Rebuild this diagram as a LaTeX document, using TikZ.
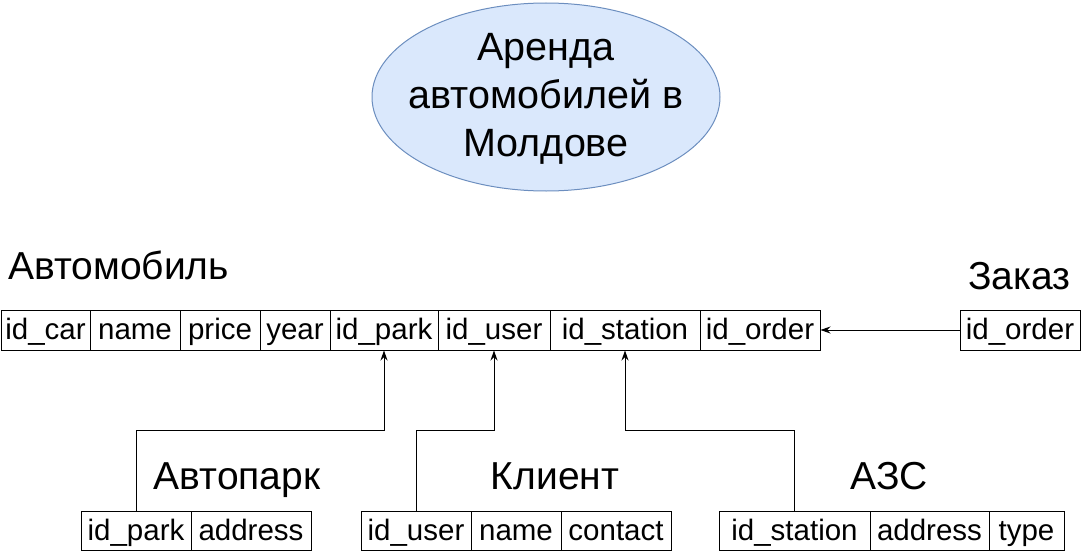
\documentclass[tikz,border=0pt]{standalone}
\usepackage{fontspec}
\setmainfont{Liberation Sans}
\usetikzlibrary{shapes.geometric,arrows.meta}
\definecolor{ellfill}{HTML}{DAE8FC}
\definecolor{elldraw}{HTML}{6C8EBF}
\begin{document}
\begin{tikzpicture}[x=1pt,y=-1pt,
  cell/.style={draw, line width=1pt, minimum height=40pt, inner sep=0pt, text height=22pt, text depth=4pt, font=\fontsize{29.5}{34}\selectfont},
  bcell/.style={cell, minimum height=39pt, text height=22.5pt, text depth=3.5pt},
  lbl/.style={inner sep=0pt, font=\fontsize{39}{46}\selectfont},
  arr/.style={line width=1pt, -{Stealth[length=10pt,width=7pt]}}]
\useasboundingbox (0,0) rectangle (1081,551);
% title ellipse
\node[ellipse, draw=elldraw, fill=ellfill, line width=1pt, minimum width=348pt, minimum height=188pt, inner sep=0pt] (title) at (546,97) {};
\node[align=center, inner sep=0pt, font=\fontsize{39.5}{48}\selectfont] (titletext) at ([yshift=-2pt]title.center) {Аренда\\автомобилей в\\Молдове};
% main table
\node[cell, minimum width=89pt] (car) at (45.5,330) {id\_car};
\node[cell, minimum width=90pt] (name) at (135,330) {name};
\node[cell, minimum width=80pt] (price) at (220,330) {price};
\node[cell, minimum width=70pt] (year) at (295,330) {year};
\node[cell, minimum width=108pt] (park) at (384,330) {id\_park};
\node[cell, minimum width=112pt] (user) at (494,330) {id\_user};
\node[cell, minimum width=150pt] (station) at (625,330) {id\_station};
\node[cell, minimum width=120pt] (order) at (760,330) {id\_order};
\node[lbl, anchor=base west] (tcar) at (8,279) {Автомобиль};
% order table
\node[cell, minimum width=120pt] (order2) at (1020,330) {id\_order};
\node[lbl, anchor=base] (torder) at (1019.5,289) {Заказ};
% park table
\node[bcell, minimum width=110pt] (park2) at (136,530.5) {id\_park};
\node[bcell, minimum width=120pt] (paddr) at (251,530.5) {address};
\node[lbl, anchor=base] (tpark) at (237,489) {Автопарк};
% client table
\node[bcell, minimum width=110pt] (user2) at (416,530.5) {id\_user};
\node[bcell, minimum width=90pt] (uname) at (516,530.5) {name};
\node[bcell, minimum width=110pt] (ucontact) at (616,530.5) {contact};
\node[lbl, anchor=base] (tuser) at (555,489) {Клиент};
% station table
\node[bcell, minimum width=151pt] (station2) at (794.5,530.5) {id\_station};
\node[bcell, minimum width=119pt] (saddr) at (929.5,530.5) {address};
\node[bcell, minimum width=75pt] (stype) at (1026.5,530.5) {type};
\node[lbl, anchor=base] (tstation) at (889,489) {АЗС};
% connectors
\draw[arr] (order2.west) -- (order.east);
\draw[arr] (park2.north) -- (park2.north |- 0,430) -| (park.south);
\draw[arr] (user2.north) -- (user2.north |- 0,430) -| (user.south);
\draw[arr] (station2.north) -- (station2.north |- 0,430) -| (station.south);
\end{tikzpicture}
\end{document}
